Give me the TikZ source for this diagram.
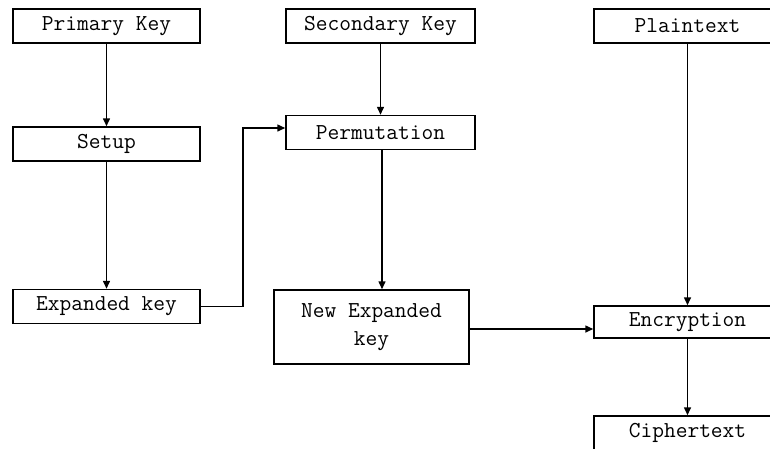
\documentclass[tikz,border=0pt]{standalone}
\usetikzlibrary{arrows.meta}
\begin{document}
\begin{tikzpicture}[x=1pt,y=-1pt,
  blk/.style={draw=black,line width=1.5pt,inner sep=0pt,align=center,
    font=\ttfamily\fontsize{22.8}{28}\selectfont,minimum height=34pt},
  arr/.style={line width=1.5pt,-{Triangle[length=8pt,width=7pt]}}]
\useasboundingbox (0,0) rectangle (770,448);
\clip (0,0) rectangle (770,448);
\fill[white] (0,0) rectangle (770,448);

% left column: key schedule
\node[blk,minimum width=187pt] (pk)    at (106.5,26)  {Primary Key};
\node[blk,minimum width=187pt] (setup) at (106.5,144) {Setup};
\node[blk,minimum width=187pt] (exp)   at (106.5,306.5) {Expanded key};

% middle column: permutation
\node[blk,minimum width=189pt] (sk)   at (380.5,26)  {Secondary Key};
\node[blk,minimum width=189pt] (perm) at (380.5,132.5) {Permutation};
\node[blk,minimum width=195pt,minimum height=74pt] (nek) at (371.5,327) {New Expanded\\key};

% right column: cipher
\node[blk,minimum width=187pt] (pt)  at (687.5,26)  {Plaintext};
\node[blk,minimum width=187pt,minimum height=32pt] (enc) at (687.5,322) {Encryption};
\node[blk,minimum width=187pt] (ct)  at (687.5,433) {Ciphertext};

% connectors
\draw[arr] (pk) -- (setup);
\draw[arr] (setup) -- (exp);
\coordinate (elbow) at (243,128);
\draw[arr] (exp.east) -| (elbow) -- (elbow -| perm.west);
\draw[arr] (sk) -- (perm);
\draw[arr] ([xshift=1.5pt]perm.south) -- ([xshift=1.5pt]perm.south |- nek.north);
\draw[arr] (pt) -- (enc);
\draw[arr] ([yshift=-2pt]nek.east) -- ([yshift=-2pt]nek.east -| enc.west);
\draw[arr] (enc) -- (ct);
\end{tikzpicture}
\end{document}
